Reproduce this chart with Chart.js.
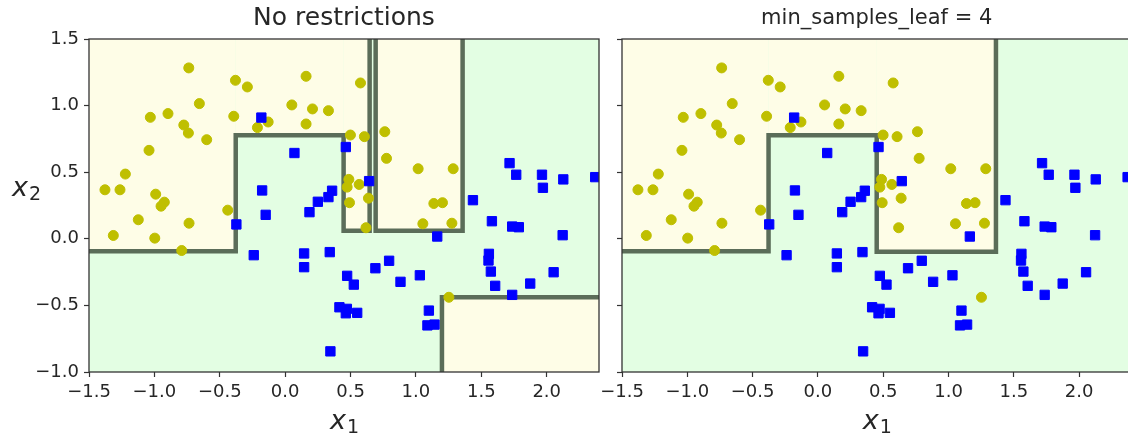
<!DOCTYPE html>
<html>
<head>
<meta charset="utf-8">
<script src="https://cdn.jsdelivr.net/npm/chart.js@4.4.1/dist/chart.umd.min.js"></script>
<style>
  html, body { margin: 0; padding: 0; background: #fff; overflow: hidden; width: 1128px; height: 437px; }
  #c1 { position: absolute; left: 0; top: 0; }
  #c2 { position: absolute; left: 580px; top: 0; }
</style>
</head>
<body>
<canvas id="c1" width="610" height="437"></canvas>
<canvas id="c2" width="559" height="437"></canvas>
<script>
// moons samples, class 0 (yellow circles)
const yellowX = [-0.737,-0.38,-0.289,0.16,-0.656,-1.031,-0.896,-0.775,-0.74,-0.6,-0.393,-0.212,-0.13,0.051,0.209,0.16,-1.041,-1.222,-1.378,-1.263,-0.99,-0.924,-0.949,-1.314,-1.123,-0.997,-0.735,-0.791,-0.439,0.576,0.331,0.499,0.606,0.762,0.775,1.017,1.285,0.487,0.474,0.566,0.637,0.492,1.137,1.203,0.618,1.053,1.275,1.252];
const yellowY = [1.283,1.19,1.14,1.22,1.015,0.912,0.94,0.854,0.794,0.744,0.92,0.835,0.877,1.005,0.975,0.862,0.664,0.486,0.368,0.368,0.335,0.275,0.245,0.025,0.143,0.005,0.117,-0.088,0.215,1.17,0.962,0.779,0.767,0.804,0.604,0.526,0.526,0.446,0.388,0.408,0.305,0.271,0.265,0.271,0.083,0.113,0.117,-0.439];
// moons samples, class 1 (blue squares)
const blueX = [-0.182,0.071,-0.176,0.25,-0.373,-0.149,-0.24,0.145,0.145,0.186,0.464,0.642,0.359,0.331,1.716,1.767,1.964,1.971,2.127,2.371,1.436,1.581,1.736,1.787,2.122,1.163,0.341,1.558,1.555,1.573,1.606,1.736,1.874,2.053,0.474,0.525,0.69,0.795,0.882,1.03,0.415,0.464,0.551,0.472,1.099,1.088,1.142,0.346];
const blueY = [0.91,0.644,0.363,0.278,0.108,0.18,-0.123,-0.11,-0.213,0.2,0.689,0.433,0.361,0.313,0.568,0.481,0.481,0.383,0.446,0.463,0.29,0.132,0.092,0.087,0.027,0.017,-0.1,-0.113,-0.163,-0.246,-0.353,-0.421,-0.336,-0.251,-0.278,-0.344,-0.221,-0.165,-0.323,-0.274,-0.514,-0.559,-0.556,-0.526,-0.539,-0.65,-0.644,-0.845];

// axis ticks
const xTickValues = [-1.5, -1.0, -0.5, 0.0, 0.5, 1.0, 1.5, 2.0];
const yTickValues = [-1.0, -0.5, 0.0, 0.5, 1.0, 1.5];

// class-0 decision regions as [x0, x1, y0, y1]; everything else is class 1
const leftYellowRegions = [
  [-1.5, -0.378, -0.093, 1.5],
  [-0.378, 0.447, 0.777, 1.5],
  [0.447, 0.646, 0.06, 1.5],
  [0.692, 1.357, 0.06, 1.5],
  [1.199, 2.4, -1.0, -0.439]
];
const rightYellowRegions = [
  [-1.5, -0.378, -0.093, 1.5],
  [-0.378, 0.45, 0.777, 1.5],
  [0.45, 1.363, -0.097, 1.5]
];

// decision boundaries
const leftBoundaryAX = [-1.5, -0.378, -0.378, 0.447, 0.447, 0.646, 0.646];
const leftBoundaryAY = [-0.093, -0.093, 0.777, 0.777, 0.06, 0.06, 1.5];
const leftBoundaryBX = [0.692, 0.692, 1.357, 1.357];
const leftBoundaryBY = [1.5, 0.06, 0.06, 1.5];
const leftBoundaryCX = [1.199, 1.199, 2.4];
const leftBoundaryCY = [-1.0, -0.439, -0.439];
const rightBoundaryX = [-1.5, -0.378, -0.378, 0.45, 0.45, 1.363, 1.363];
const rightBoundaryY = [-0.093, -0.093, 0.777, 0.777, -0.097, -0.097, 1.5];

const FONT = '"DejaVu Sans", sans-serif';
const TEXT = '#262626';
const YELLOW_BG = '#fefde7';
const GREEN_BG = '#e3fee3';
const LINE = '#5b6d59';

const pts = (xs, ys) => xs.map((x, i) => ({ x, y: ys[i] }));
const fmt = v => v.toFixed(1).replace('-', '\u2212');

// filled decision regions, painted beneath the datasets
const regionsPlugin = {
  id: 'regions',
  beforeDatasetsDraw(chart, args, opts) {
    const { ctx, chartArea: a, scales: { x, y } } = chart;
    ctx.save();
    ctx.beginPath();
    ctx.rect(a.left, a.top, a.width, a.height);
    ctx.clip();
    ctx.fillStyle = GREEN_BG;
    ctx.fillRect(a.left, a.top, a.width, a.height);
    ctx.fillStyle = YELLOW_BG;
    for (const [x0, x1, y0, y1] of opts.rects) {
      const px0 = x.getPixelForValue(x0), px1 = x.getPixelForValue(x1);
      const py0 = y.getPixelForValue(y0), py1 = y.getPixelForValue(y1);
      ctx.fillRect(px0, py1, px1 - px0, py0 - py1);
    }
    ctx.restore();
  }
};

// axes frame plus math-style axis labels (x₁, x₂)
function drawSubLabel(ctx, base, sub, cx, baseline, size) {
  ctx.textAlign = 'left';
  ctx.textBaseline = 'alphabetic';
  const fBase = `italic ${size}px ${FONT}`;
  const fSub = `${Math.round(size * 0.7)}px ${FONT}`;
  ctx.font = fBase;
  const w1 = ctx.measureText(base).width;
  ctx.font = fSub;
  const w2 = ctx.measureText(sub).width;
  const x0 = cx - (w1 + w2) / 2;
  ctx.fillStyle = TEXT;
  ctx.font = fBase;
  ctx.fillText(base, x0, baseline);
  ctx.font = fSub;
  ctx.fillText(sub, x0 + w1 + 1, baseline + size * 0.15);
}

const framePlugin = {
  id: 'frame',
  afterDatasetsDraw(chart) {
    const { ctx, chartArea: a } = chart;
    ctx.save();
    ctx.strokeStyle = '#333';
    ctx.lineWidth = 1.3;
    ctx.strokeRect(a.left, a.top, a.width, a.height);
    ctx.restore();
  },
  afterDraw(chart, args, opts) {
    const { ctx, chartArea: a } = chart;
    ctx.save();
    if (opts.xSub) drawSubLabel(ctx, 'x', opts.xSub, opts.xCenter ?? (a.left + a.right) / 2, a.bottom + 57, 27);
    if (opts.ySub) drawSubLabel(ctx, 'x', opts.ySub, 26, (a.top + a.bottom) / 2 - 10, 27);
    ctx.restore();
  }
};

function makeChart(canvasId, cfg) {
  const datasets = cfg.boundaries.map(([bx, by]) => ({
    data: pts(bx, by),
    showLine: true,
    pointRadius: 0,
    borderColor: LINE,
    borderWidth: 4.5,
    borderJoinStyle: 'miter',
    borderCapStyle: 'butt',
    fill: false,
    order: 2
  }));
  datasets.push({
    data: pts(yellowX, yellowY),
    pointStyle: 'circle',
    pointRadius: 5,
    pointBorderWidth: 1,
    backgroundColor: '#bfbf00',
    borderColor: '#bfbf00',
    order: 1
  });
  datasets.push({
    data: pts(blueX, blueY),
    pointStyle: 'rect',
    pointRadius: 6.6,
    pointBorderWidth: 1,
    backgroundColor: '#0000ff',
    borderColor: '#0000ff',
    order: 0
  });

  const tickFont = { family: FONT, size: 18 };
  return new Chart(document.getElementById(canvasId), {
    type: 'scatter',
    data: { datasets },
    options: {
      responsive: false,
      animation: false,
      events: [],
      layout: { padding: { left: 0, right: cfg.padRight, top: 0, bottom: 0 } },
      plugins: {
        legend: { display: false },
        tooltip: { enabled: false },
        title: {
          display: true,
          text: cfg.title,
          fullSize: false,
          color: TEXT,
          font: { family: FONT, size: cfg.titleSize, weight: 'normal' },
          padding: cfg.titlePad
        },
        regions: { rects: cfg.regions },
        frame: { xSub: '1', ySub: cfg.ySub }
      },
      scales: {
        x: {
          type: 'linear',
          min: -1.5,
          max: 2.4,
          afterBuildTicks: s => { s.ticks = xTickValues.map(v => ({ value: v })); },
          afterFit: s => { s.height = 65; s.paddingLeft = 0; s.paddingRight = 0; },
          ticks: { callback: v => fmt(v), font: tickFont, color: TEXT, padding: 5, maxRotation: 0, autoSkip: false },
          grid: { drawOnChartArea: false, drawTicks: true, tickLength: 5, color: '#333', tickWidth: 1.2 },
          border: { display: false }
        },
        y: {
          type: 'linear',
          min: -1.0,
          max: 1.5,
          afterBuildTicks: s => { s.ticks = yTickValues.map(v => ({ value: v })); },
          afterFit: s => { s.width = cfg.yWidth; s.paddingTop = 0; s.paddingBottom = 0; },
          ticks: { callback: v => (cfg.yLabels ? fmt(v) : ''), font: tickFont, color: TEXT, padding: 5, autoSkip: false },
          grid: { drawOnChartArea: false, drawTicks: true, tickLength: 5, color: '#333', tickWidth: 1.2 },
          border: { display: false }
        }
      }
    },
    plugins: [regionsPlugin, framePlugin]
  });
}

makeChart('c1', {
  title: 'No restrictions',
  titleSize: 25,
  titlePad: { top: 3, bottom: 6 },
  regions: leftYellowRegions,
  boundaries: [[leftBoundaryAX, leftBoundaryAY], [leftBoundaryBX, leftBoundaryBY], [leftBoundaryCX, leftBoundaryCY]],
  yWidth: 89,
  yLabels: true,
  ySub: '2',
  padRight: 11
});

makeChart('c2', {
  title: 'min_samples_leaf = 4',
  titleSize: 21,
  titlePad: { top: 6, bottom: 7.8 },
  regions: rightYellowRegions,
  boundaries: [[rightBoundaryX, rightBoundaryY]],
  yWidth: 42,
  yLabels: false,
  ySub: null,
  padRight: 0
});
</script>
</body>
</html>
